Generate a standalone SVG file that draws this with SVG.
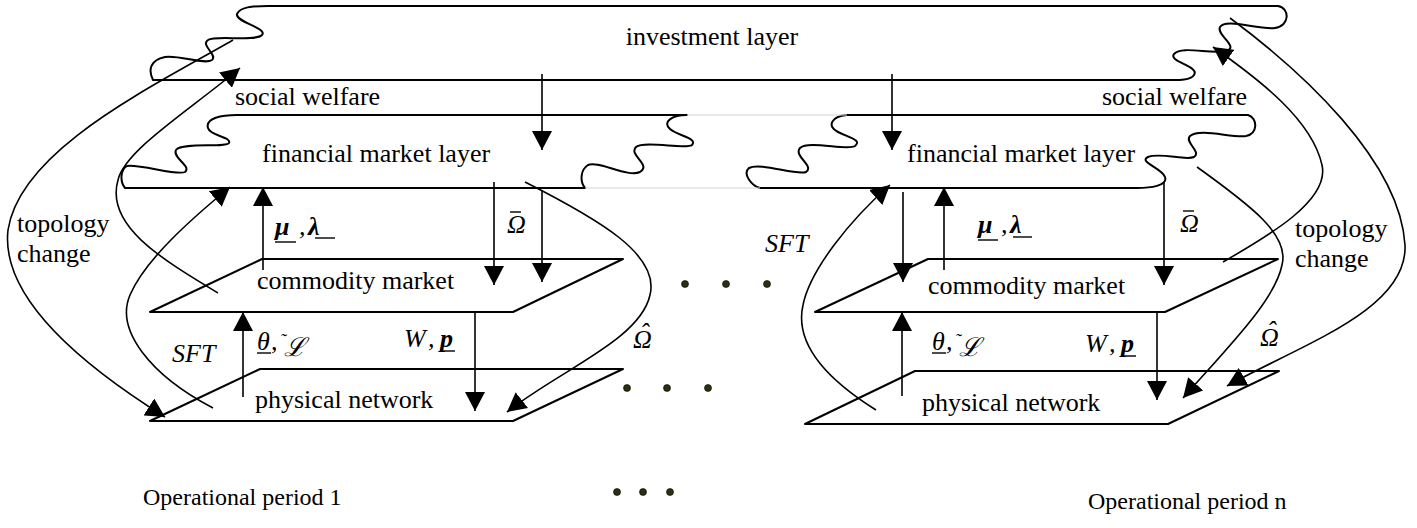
<svg xmlns="http://www.w3.org/2000/svg" width="1417" height="528" viewBox="0 0 1417 528">
<style>
.shape{fill:none;stroke:#000;stroke-width:2;stroke-linejoin:round}
.faint{fill:none;stroke:#d4d4d4;stroke-width:1}
.conn{fill:none;stroke:#000;stroke-width:1.6}
.arr{marker-end:url(#ah)}
.t{font-family:"Liberation Serif","Times New Roman",serif;font-size:26px;fill:#000}
.tb{font-family:"Liberation Serif","Times New Roman",serif;font-size:24px;fill:#000}
.m{font-family:"Liberation Serif","DejaVu Serif",serif;font-size:26px;font-style:italic;fill:#000}
.bi{font-weight:bold}
.ul{stroke:#000;stroke-width:1.4}
.dot{fill:#2e2e10;stroke:#000;stroke-width:0.6}
</style>
<defs>
<marker id="ah" markerUnits="userSpaceOnUse" viewBox="0 0 19 20" markerWidth="19" markerHeight="20" refX="19" refY="10" orient="auto">
<path d="M0,0 L19,10 L0,20 z" fill="#000"/>
</marker>
</defs>
<rect width="1417" height="528" fill="#fff"/>

<g id="investment-layer">
<path class="shape" d="M268,6 L1278,6 C1290,8 1290,26 1275,28 C1258,30 1226,18 1220,27 C1216,35 1240,47 1226,51 C1212,55 1182,45 1174,54 C1168,62 1200,66 1194,75 C1190,81 1176,80 1167,80 L153,80 C148,70 150,60 165,57 C180,55 205,65 212,60 C218,55 200,45 208,40 C215,35 255,42 262,35 C268,28 235,22 237,14 C240,7 252,6 268,6 Z"/>
<text class="t" x="712" y="45" text-anchor="middle">investment layer</text>
</g>

<g id="financial-layer-1">
<path class="shape" d="M237,115 L687,115 C672,115 662,122 670,129 C678,136 698,138 692,145 C686,150 645,140 636,147 C628,155 652,165 640,172 C628,178 598,160 588,165 C580,170 580,182 585,188 L125,188 C120,182 120,170 127,166 C140,164 178,176 185,172 C192,166 172,158 176,150 C182,142 226,148 229,143 C232,137 210,136 208,128 C205,118 222,115 237,115 Z"/>
<text class="t" x="262" y="162">financial market layer</text>
</g>

<g id="financial-layer-2">
<path class="shape" d="M847,115 L1248,115 C1258,118 1258,134 1246,136 C1232,138 1200,128 1190,136 C1184,142 1202,152 1194,157 C1186,161 1160,152 1148,157 C1138,162 1162,168 1165,177 C1168,186 1150,188 1137,188 L760,188 C752,186 742,174 749,168 C760,162 797,176 806,172 C815,166 793,156 800,148 C808,140 848,151 855,146 C862,140 850,138 838,132 C826,126 832,116 847,115 Z"/>
<text class="t" x="907" y="162">financial market layer</text>
</g>

<g id="faint-links">
<line class="faint" x1="687" y1="115" x2="847" y2="115"/>
<line class="faint" x1="585" y1="188" x2="760" y2="188"/>
</g>

<g id="commodity-market-1">
<path class="shape" d="M262,259 L623,259 L513,312 L150,312 Z"/>
<text class="t" x="257" y="289">commodity market</text>
</g>

<g id="commodity-market-2">
<path class="shape" d="M928,259 L1278,259 L1165,312 L815,312 Z"/>
<text class="t" x="928" y="294">commodity market</text>
</g>

<g id="physical-network-1">
<path class="shape" d="M260,369 L623,369 L513,421 L150,421 Z"/>
<text class="t" x="255" y="408">physical network</text>
</g>

<g id="physical-network-2">
<path class="shape" d="M915,371 L1279,371 L1168,424 L805,424 Z"/>
<text class="t" x="922" y="411">physical network</text>
</g>

<g id="connectors">
<line class="conn arr" x1="542" y1="74" x2="542" y2="150"/>
<line class="conn arr" x1="892" y1="74" x2="892" y2="150"/>
<line class="conn arr" x1="263" y1="270" x2="263" y2="187"/>
<line class="conn arr" x1="494" y1="182" x2="494" y2="285"/>
<line class="conn arr" x1="542" y1="190" x2="542" y2="282"/>
<line class="conn arr" x1="243" y1="397" x2="243" y2="312"/>
<line class="conn arr" x1="475" y1="312" x2="475" y2="411"/>
<line class="conn arr" x1="903" y1="192" x2="903" y2="282"/>
<line class="conn arr" x1="944" y1="270" x2="944" y2="187"/>
<line class="conn arr" x1="1164" y1="182" x2="1164" y2="285"/>
<line class="conn arr" x1="902" y1="396" x2="902" y2="312"/>
<line class="conn arr" x1="1157" y1="312" x2="1157" y2="400"/>
<path class="conn arr" d="M233,40 C150,88 20,150 8,230 C0,300 90,370 165,417"/>
<path class="conn arr" d="M218,293 C160,258 105,225 118,180 C125,150 190,110 240,68"/>
<path class="conn arr" d="M213,408 C150,375 115,330 130,295 C145,260 190,220 230,187"/>
<path class="conn arr" d="M525,182 C600,220 660,255 650,295 C640,340 560,370 507,412"/>
<path class="conn arr" d="M1197,167 C1250,205 1290,235 1282,265 C1275,300 1230,345 1183,398"/>
<path class="conn arr" d="M1223,262 C1270,235 1330,200 1322,165 C1312,120 1260,80 1213,47"/>
<path class="conn arr" d="M1230,18 C1300,70 1400,160 1405,245 C1408,310 1300,345 1227,386"/>
<path class="conn arr" d="M876,410 C820,375 795,340 803,305 C810,270 850,220 890,185"/>
</g>

<g id="labels">
<text class="t" x="235" y="105">social welfare</text>
<text class="t" x="1102" y="105">social welfare</text>
<text class="t" x="17" y="232">topology</text>
<text class="t" x="17" y="262">change</text>
<text class="t" x="1295" y="237">topology</text>
<text class="t" x="1295" y="267">change</text>
<text class="m" x="172" y="362">SFT</text>
<text class="m" x="765" y="252">SFT</text>
<text class="m" x="507" y="233">Ω</text>
<line class="ul" x1="510" y1="212" x2="521" y2="212"/>
<text class="m" x="1180" y="232">Ω</text>
<line class="ul" x1="1183" y1="211" x2="1194" y2="211"/>
<text class="m" y="348"><tspan x="633">Ω</tspan><tspan x="640" dy="-7">ˆ</tspan></text>
<text class="m" y="346"><tspan x="1260">Ω</tspan><tspan x="1267" dy="-7">ˆ</tspan></text>
<text class="m" y="235"><tspan class="bi" x="275">μ</tspan><tspan x="299">,</tspan><tspan class="bi" x="308">λ</tspan></text>
<line class="ul" x1="275" y1="242" x2="296" y2="242"/>
<line class="ul" x1="315" y1="238" x2="335" y2="238"/>
<text class="m" y="233"><tspan class="bi" x="978">μ</tspan><tspan x="1001">,</tspan><tspan class="bi" x="1010">λ</tspan></text>
<line class="ul" x1="978" y1="240" x2="998" y2="240"/>
<line class="ul" x1="1013" y1="237" x2="1032" y2="237"/>
<text class="m" y="350"><tspan x="257">θ</tspan><tspan x="271">,</tspan><tspan x="280" dy="-3" font-size="18">˜</tspan><tspan x="284" dy="9">ℒ</tspan></text>
<line class="ul" x1="257" y1="353" x2="271" y2="353"/>
<text class="m" y="350"><tspan x="932">θ</tspan><tspan x="946">,</tspan><tspan x="955" dy="-3" font-size="18">˜</tspan><tspan x="959" dy="9">ℒ</tspan></text>
<line class="ul" x1="932" y1="353" x2="946" y2="353"/>
<text class="m" y="347"><tspan x="404">W</tspan><tspan x="428">,</tspan><tspan class="bi" x="440">p</tspan></text>
<line class="ul" x1="440" y1="351" x2="455" y2="351"/>
<text class="m" y="352"><tspan x="1085">W</tspan><tspan x="1109">,</tspan><tspan class="bi" x="1121">p</tspan></text>
<line class="ul" x1="1121" y1="356" x2="1136" y2="356"/>
</g>

<g id="ellipsis">
<circle class="dot" cx="685" cy="284" r="3.5"/>
<circle class="dot" cx="726" cy="284" r="3.5"/>
<circle class="dot" cx="767" cy="284" r="3.5"/>
<circle class="dot" cx="627" cy="388" r="3.5"/>
<circle class="dot" cx="667" cy="388" r="3.5"/>
<circle class="dot" cx="708" cy="388" r="3.5"/>
<circle class="dot" cx="617" cy="492" r="3.5"/>
<circle class="dot" cx="643" cy="492" r="3.5"/>
<circle class="dot" cx="670" cy="492" r="3.5"/>
</g>

<g id="period-labels">
<text class="tb" x="143" y="505">Operational period 1</text>
<text class="tb" x="1088" y="509">Operational period n</text>
</g>
</svg>
